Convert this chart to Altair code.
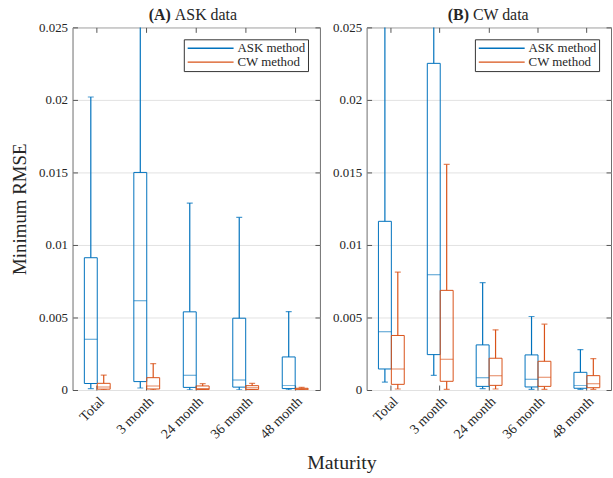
import altair as alt
import pandas as pd

FONT = "Liberation Serif"
TXT = "#262626"
AX = "#6e6e6e"
GRID = "#e2e2e2"
BOXW = 13

categories = ["Total", "3 month", "24 month", "36 month", "48 month"]
methods = ["ASK method", "CW method"]
colors = ["#0072BD", "#D95319"]
y_ticks = [0, 0.005, 0.01, 0.015, 0.02, 0.025]

# Panel A (ASK data): lower whisker, q1, median, q3, upper whisker
a_ask_lo = [0.00010, 0.00014, 0.00002, 0.00002, 0.00002]
a_ask_q1 = [0.00045, 0.00058, 0.00018, 0.00020, 0.00010]
a_ask_med = [0.00350, 0.00615, 0.00101, 0.00069, 0.00032]
a_ask_q3 = [0.00912, 0.01500, 0.00539, 0.00495, 0.00228]
a_ask_hi = [0.02020, 0.03000, 0.01289, 0.01190, 0.00541]

a_cw_lo = [0.00002, 0.00002, 0.00001, 0.00001, 0.00001]
a_cw_q1 = [0.00006, 0.00007, 0.00003, 0.00004, 0.00002]
a_cw_med = [0.00020, 0.00028, 0.00010, 0.00016, 0.00007]
a_cw_q3 = [0.00046, 0.00085, 0.00028, 0.00030, 0.00012]
a_cw_hi = [0.00103, 0.00182, 0.00044, 0.00046, 0.00018]

# Panel B (CW data)
b_ask_lo = [0.00055, 0.00101, 0.00010, 0.00005, 0.00005]
b_ask_q1 = [0.00145, 0.00244, 0.00025, 0.00021, 0.00012]
b_ask_med = [0.00401, 0.00795, 0.00085, 0.00074, 0.00032]
b_ask_q3 = [0.01163, 0.02252, 0.00311, 0.00242, 0.00122]
b_ask_hi = [0.03000, 0.03000, 0.00740, 0.00507, 0.00279]

b_cw_lo = [0.00007, 0.00005, 0.00007, 0.00005, 0.00005]
b_cw_q1 = [0.00039, 0.00060, 0.00032, 0.00025, 0.00016]
b_cw_med = [0.00145, 0.00212, 0.00099, 0.00088, 0.00044]
b_cw_q3 = [0.00376, 0.00687, 0.00219, 0.00198, 0.00099]
b_cw_hi = [0.00813, 0.01555, 0.00415, 0.00454, 0.00217]


def make_df(ask, cw):
    rows = []
    for m, s in zip(methods, [ask, cw]):
        lo, q1, med, q3, hi = s
        for i, c in enumerate(categories):
            rows.append(dict(cat=c, method=m, lo=lo[i], q1=q1[i], med=med[i], q3=q3[i], hi=hi[i]))
    return pd.DataFrame(rows)


df_a = make_df([a_ask_lo, a_ask_q1, a_ask_med, a_ask_q3, a_ask_hi],
               [a_cw_lo, a_cw_q1, a_cw_med, a_cw_q3, a_cw_hi])
df_b = make_df([b_ask_lo, b_ask_q1, b_ask_med, b_ask_q3, b_ask_hi],
               [b_cw_lo, b_cw_q1, b_cw_med, b_cw_q3, b_cw_hi])


def tick_axis_x(orient):
    return alt.Axis(orient=orient, labels=False, domain=False, grid=False, ticks=True,
                    tickSize=5, offset=-5, tickColor="#555555", tickWidth=1, title=None)


def tick_axis_y(orient):
    return alt.Axis(orient=orient, values=y_ticks, labels=False, domain=False, grid=False,
                    ticks=True, tickSize=5, offset=-5, tickColor="#555555", tickWidth=1,
                    title=None)


def panel(df, width, tag, rest, tag_right, ytitle):
    band = width / len(categories)
    po = (band / BOXW - 2) / 2
    xs = alt.Scale(domain=categories, paddingInner=0, paddingOuter=0)
    xos = alt.Scale(domain=methods, paddingInner=0, paddingOuter=po)
    ys = alt.Scale(domain=[0, 0.025], nice=False, zero=False)
    cs = alt.Scale(domain=methods, range=colors)
    legend = alt.Legend(title=None, orient="top-right", offset=12, fillColor="white",
                        strokeColor="#333333", padding=2, symbolType="M-3.3,0H3.3",
                        symbolSize=196, symbolStrokeWidth=1.3, clipHeight=14,
                        labelFont=FONT, labelFontSize=13, labelColor=TXT,
                        rowPadding=0, symbolOffset=17, labelOffset=19)

    def xn(ax):
        return alt.X("cat:N", scale=xs, sort=categories, axis=ax, title=None)

    main_x = alt.Axis(labelAngle=-45, labelAlign="right", labelBaseline="top",
                      labelFont=FONT, labelFontSize=14, labelColor=TXT, labelPadding=4,
                      domain=False, ticks=False, grid=False, title=None)
    main_y = alt.Axis(values=y_ticks, format="~f", labelFont=FONT, labelFontSize=13,
                      labelColor=TXT, labelPadding=5, domain=False, ticks=False,
                      grid=True, gridColor=GRID, gridWidth=1,
                      title=ytitle if ytitle else None, titleFont=FONT,
                      titleFontSize=19, titleFontWeight="normal", titleColor=TXT,
                      titlePadding=9)

    base = alt.Chart(df).encode(
        xOffset=alt.XOffset("method:N", scale=xos, sort=methods),
        color=alt.Color("method:N", scale=cs, sort=methods, legend=legend),
    )
    box = base.mark_bar(filled=False, strokeWidth=1, clip=True).encode(
        x=xn(main_x), y=alt.Y("q1:Q", scale=ys, axis=main_y), y2="q3:Q")
    lower = base.mark_rule(strokeWidth=1.2, clip=True).encode(
        x=xn(None), y=alt.Y("lo:Q", scale=ys, axis=None), y2="q1:Q")
    upper = base.mark_rule(strokeWidth=1.2, clip=True).encode(
        x=xn(None), y=alt.Y("q3:Q", scale=ys, axis=None), y2="hi:Q")
    cap_lo = base.mark_tick(size=6, thickness=1.2, clip=True).encode(
        x=xn(None), y=alt.Y("lo:Q", scale=ys, axis=None))
    cap_hi = base.mark_tick(size=6, thickness=1.2, clip=True).encode(
        x=xn(None), y=alt.Y("hi:Q", scale=ys, axis=None))
    med = base.mark_tick(size=BOXW, thickness=1, clip=True).encode(
        x=xn(None), y=alt.Y("med:Q", scale=ys, axis=None))
    t1 = alt.Chart(df).mark_point(opacity=0).encode(
        x=xn(tick_axis_x("bottom")), y=alt.Y("med:Q", scale=ys, axis=tick_axis_y("left")))
    t2 = alt.Chart(df).mark_point(opacity=0).encode(
        x=xn(tick_axis_x("top")), y=alt.Y("med:Q", scale=ys, axis=tick_axis_y("right")))
    tag_text = alt.Chart(pd.DataFrame({"t": [tag]})).mark_text(
        font=FONT, fontSize=16, fontWeight="bold", align="right", baseline="alphabetic",
        color=TXT).encode(text="t:N", x=alt.value(tag_right), y=alt.value(-7))
    rest_text = alt.Chart(pd.DataFrame({"t": [rest]})).mark_text(
        font=FONT, fontSize=16, fontWeight="normal", align="left", baseline="alphabetic",
        color=TXT).encode(text="t:N", x=alt.value(tag_right + 4), y=alt.value(-7))
    return alt.layer(box, lower, upper, cap_lo, cap_hi, med, t1, t2, tag_text, rest_text
                     ).resolve_axis(x="independent", y="independent"
                     ).properties(width=width, height=365)


pA = panel(df_a, 249, "(A)", "ASK data", 99, "Minimum RMSE")
pB = panel(df_b, 246, "(B)", "CW data", 103, None)

chart = alt.hconcat(pA, pB, spacing=11).resolve_scale(
    color="independent", x="independent", y="independent"
).properties(
    title=alt.TitleParams("Maturity", orient="bottom", anchor="middle", font=FONT,
                          fontSize=20, fontWeight="normal", color=TXT, offset=11, dx=31),
    padding={"left": 10, "top": 5, "right": 1, "bottom": 3},
).configure_view(stroke=AX, strokeWidth=1)

chart.save("out.html", embed_options={"renderer": "svg", "actions": False})
